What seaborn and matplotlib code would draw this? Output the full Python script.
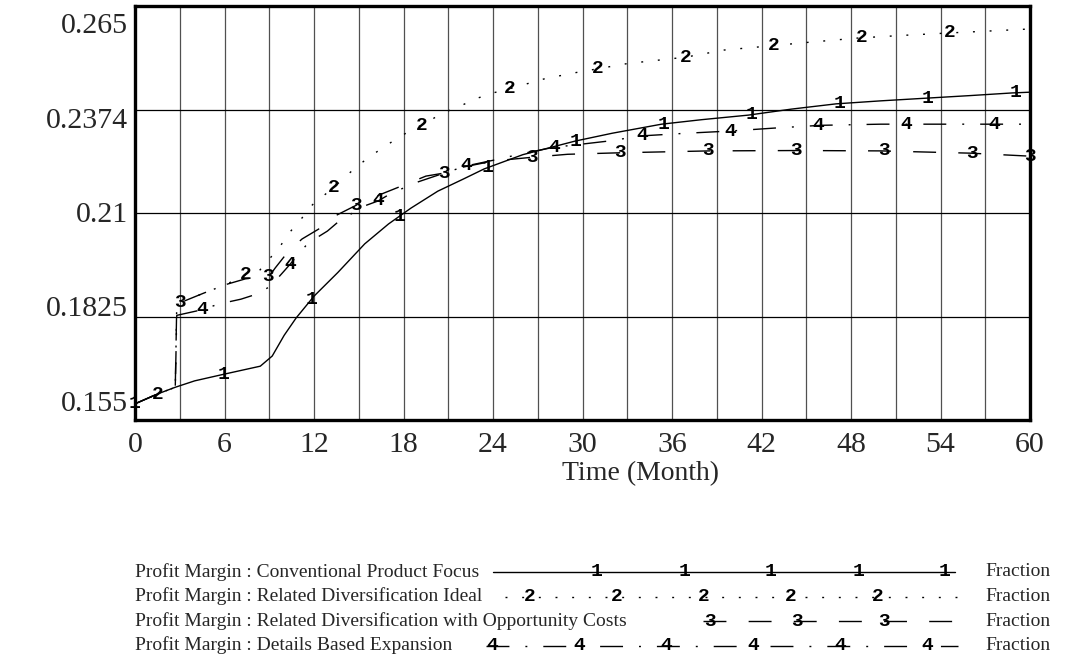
import numpy as np
import pandas as pd
import matplotlib
matplotlib.use("Agg")
import matplotlib.pyplot as plt
import seaborn as sns

# ---- data: profit margin (fraction) over time (months) ----
months_conventional = [0, 1.5, 2.7, 4, 6, 8.4, 9.2, 10, 10.8, 12, 13.6, 15.4, 17, 18.5,
                       20.3, 22, 23.4, 26, 29.5, 32, 35.3, 38, 41.1, 44, 47, 50, 53, 56, 58.8, 60]
margin_conventional = [0.1593, 0.1619, 0.1637, 0.1654, 0.1672, 0.1693, 0.1720, 0.1775, 0.1821,
                       0.1879, 0.1942, 0.2018, 0.2071, 0.2113, 0.2158, 0.2190, 0.2217, 0.2255,
                       0.2291, 0.2312, 0.2336, 0.2348, 0.2360, 0.2376, 0.2390, 0.2398, 0.2405,
                       0.2412, 0.2419, 0.2421]

months_ideal = [0, 1.5, 2.7, 2.8, 4.6, 6.1, 7.4, 8.3, 9.7, 10.4, 11.2, 11.9, 13.2, 14.6, 15.6,
                16.6, 17.6, 18.6, 19.3, 20.6, 21.8, 22.8, 24, 25.1, 27.4, 29.4, 31, 33, 36.9,
                39.5, 42.6, 45, 48.5, 51.5, 54.4, 57, 60]
margin_ideal = [0.1593, 0.1619, 0.1637, 0.1858, 0.1887, 0.1910, 0.1936, 0.1945, 0.2010, 0.2050,
                0.2087, 0.2122, 0.2164, 0.2214, 0.2246, 0.2273, 0.2299, 0.2322, 0.2335, 0.2365,
                0.2384, 0.2403, 0.2419, 0.2430, 0.2456, 0.2472, 0.2483, 0.2497, 0.2514, 0.2533,
                0.2544, 0.2553, 0.2565, 0.2572, 0.2578, 0.2583, 0.2589]

months_opportunity = [0, 1.5, 2.7, 2.8, 4.6, 6.1, 7.4, 9.0, 9.4, 10.3, 11.2, 12.3, 13.4, 15.0,
                      16.5, 18.2, 19.5, 20.7, 22.0, 24.0, 26.6, 29.0, 32.5, 38.5, 44.5, 50.0,
                      56.0, 60]
margin_opportunity = [0.1593, 0.1619, 0.1637, 0.1858, 0.1887, 0.1910, 0.1925, 0.1932, 0.1954,
                      0.1999, 0.2031, 0.2057, 0.2092, 0.2124, 0.2150, 0.2177, 0.2198, 0.2206,
                      0.2222, 0.2238, 0.2248, 0.2256, 0.2260, 0.2265, 0.2266, 0.2265, 0.2259,
                      0.2251]

months_details = [0, 1.5, 2.7, 2.8, 4.5, 5.6, 7.1, 8.2, 9.1, 10.0, 10.4, 11.6, 12.9, 13.7, 15.4,
                  16.3, 17.2, 19.0, 20.5, 22.2, 24.0, 26.0, 28.0, 31.7, 34.0, 37.0, 40.0, 43.0,
                  46.0, 50.0, 55.0, 60]
margin_details = [0.1593, 0.1619, 0.1637, 0.1828, 0.1843, 0.1858, 0.1871, 0.1885, 0.1906, 0.1946,
                  0.1964, 0.2020, 0.2052, 0.2079, 0.2119, 0.2132, 0.2153, 0.2183, 0.2203, 0.2225,
                  0.2240, 0.2258, 0.2274, 0.2291, 0.2305, 0.2312, 0.2318, 0.2326, 0.2333, 0.2336,
                  0.2336, 0.2336]

series_names = [
    "Profit Margin : Conventional Product Focus",
    "Profit Margin : Related Diversification Ideal",
    "Profit Margin : Related Diversification with Opportunity Costs",
    "Profit Margin : Details Based Expansion",
]
series_units = "Fraction"
x_ticks = [0, 6, 12, 18, 24, 30, 36, 42, 48, 54, 60]
y_ticks = [0.155, 0.1825, 0.21, 0.2375, 0.265]
y_tick_labels = ["0.155", "0.1825", "0.21", "0.2374", "0.265"]
x_label = "Time (Month)"

series = [
    (months_conventional, margin_conventional),
    (months_ideal, margin_ideal),
    (months_opportunity, margin_opportunity),
    (months_details, margin_details),
]

# ---- styling ----
sns.set_style("white")
plt.rcParams["font.family"] = ["Liberation Serif", "DejaVu Serif"]

W, H = 1081, 655
fig = plt.figure(figsize=(W / 100, H / 100), dpi=100)
ax = fig.add_axes([135 / W, 1 - 420 / H, 895 / W, 414 / H])

LW = 1.0
TICK_FS = 21.5
line_styles = ["-", (0, (1.4, 10.6)), (0, (16.5, 16)), (0, (16.5, 11.5, 1.4, 11.5))]
mark_font = dict(family="Liberation Mono", weight="bold", size=14, color="black")
mark_step = 5.9                      # months between number markers
mark_offsets = [0.0, 1.5, 3.0, 4.5]  # staggered start for each series
end_mark = [False, False, True, False]

for i, (t, v) in enumerate(series):
    df = pd.DataFrame({"Time": t, "Margin": v})
    sns.lineplot(data=df, x="Time", y="Margin", ax=ax, color="black", lw=LW,
                 linestyle=line_styles[i], estimator=None, sort=False, zorder=3)
    tk = list(np.arange(mark_offsets[i], 60.001, mark_step))
    if end_mark[i]:
        tk.append(60.0)
    for tm in tk:
        ax.text(tm, np.interp(tm, t, v), str(i + 1), ha="center", va="center",
                zorder=4, clip_on=False, **mark_font)

ax.set_xlim(0, 60)
ax.set_ylim(0.155, 0.265)

# grid: every 3 months vertically, interior value ticks horizontally
for gx in np.arange(3, 60, 3):
    ax.axvline(gx, color="#505050", lw=0.9, zorder=1)
for gy in y_ticks[1:-1]:
    ax.axhline(gy, color="black", lw=0.9, zorder=1)

for s in ax.spines.values():
    s.set_linewidth(2.4)
    s.set_color("black")
    s.set_visible(True)

ax.set_xticks(x_ticks)
ax.set_xticklabels([str(x) for x in x_ticks])
ax.set_yticks(y_ticks)
ax.set_yticklabels([])
ax.tick_params(axis="both", length=0, labelsize=TICK_FS, pad=8.5)
ax.set_xlabel("")
ax.set_ylabel("")

# value labels spread evenly between the top and bottom edges
label_centers_px = np.linspace(404, 26, len(y_ticks))
for lab, cy in zip(y_tick_labels, label_centers_px):
    ax.text(-7 / 895, (420 - cy) / 414, lab, transform=ax.transAxes,
            ha="right", va="center", fontsize=TICK_FS)

fig.text(641 / W, 1 - 474 / H, x_label, ha="center", va="center", fontsize=20)

# ---- legend drawn in pixel coordinates ----
lg = fig.add_axes([0, 0, 1, 1], zorder=5)
lg.set_xlim(0, W)
lg.set_ylim(H, 0)
lg.axis("off")
lg.patch.set_alpha(0)

row_y = [572, 596.5, 621, 645.5]
sample_span = [(493, 955), (505, 958), (703, 955), (486, 958)]
sample_first = [597, 530, 710, 492]
sample_step = 87
for i, name in enumerate(series_names):
    y = row_y[i]
    lg.text(135, y, name, ha="left", va="center", fontsize=14)
    x0, x1 = sample_span[i]
    lg.plot([x0, x1], [y, y], color="black", lw=LW, linestyle=line_styles[i])
    mx = sample_first[i]
    while mx <= x1:
        lg.text(mx, y, str(i + 1), ha="center", va="center", **mark_font)
        mx += sample_step
    lg.text(985, y, series_units, ha="left", va="center", fontsize=14)

fig.savefig("out.png", dpi=100)
